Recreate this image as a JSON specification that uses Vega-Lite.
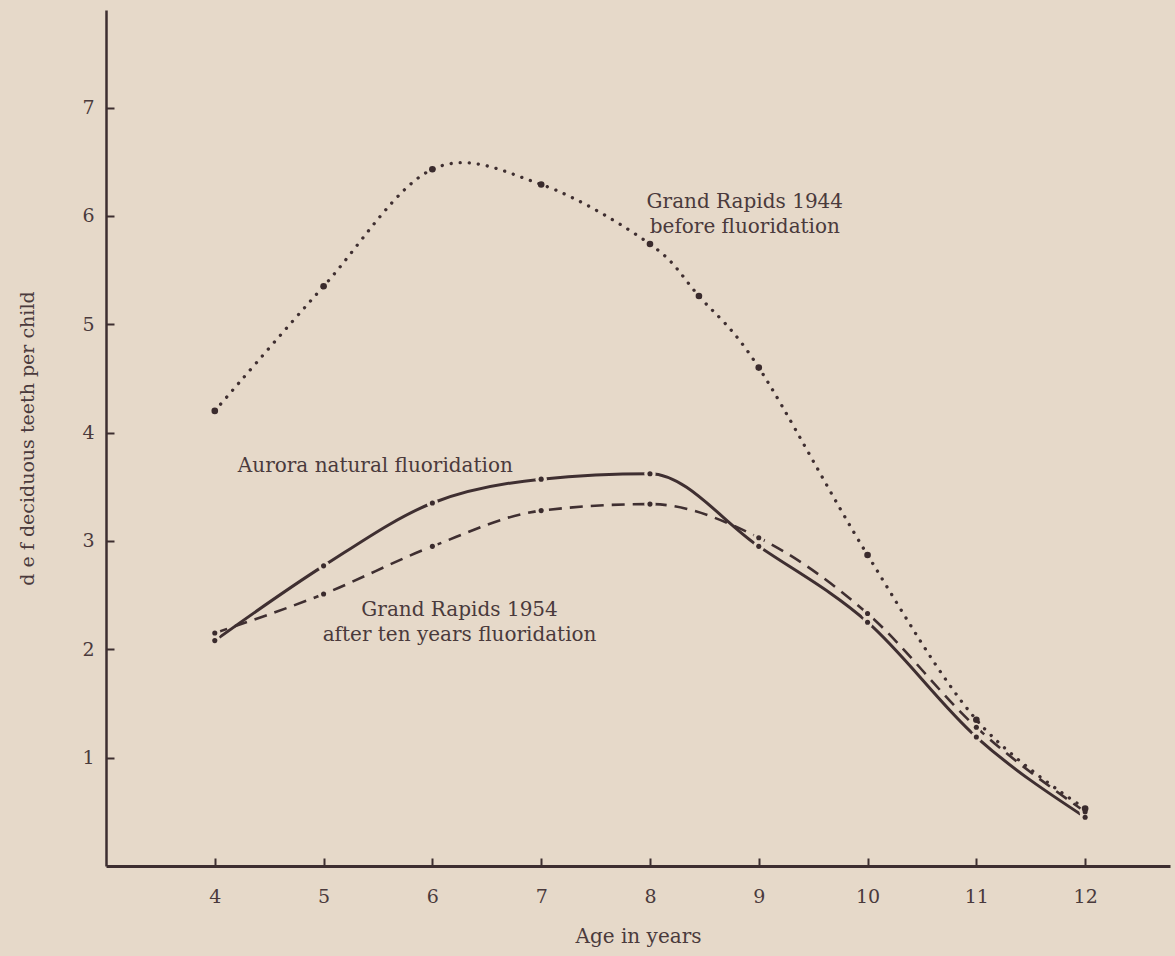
{
  "$schema": "https://vega.github.io/schema/vega-lite/v6.json",
  "width": 1064,
  "height": 856,
  "autosize": {"type": "none"},
  "padding": {"left": 106, "top": 10, "right": 5, "bottom": 90},
  "background": "#e6d9c9",
  "config": {"view": {"stroke": null}, "font": "DejaVu Serif"},
  "datasets": {
    "teeth": [
      {"series": "1944", "age": 4, "value": 4.2},
      {"series": "1944", "age": 5, "value": 5.35},
      {"series": "1944", "age": 6, "value": 6.43},
      {"series": "1944", "age": 7, "value": 6.29},
      {"series": "1944", "age": 8, "value": 5.74},
      {"series": "1944", "age": 8.45, "value": 5.26},
      {"series": "1944", "age": 9, "value": 4.6},
      {"series": "1944", "age": 10, "value": 2.87},
      {"series": "1944", "age": 11, "value": 1.35},
      {"series": "1944", "age": 12, "value": 0.53},
      {"series": "Aurora", "age": 4, "value": 2.08},
      {"series": "Aurora", "age": 5, "value": 2.77},
      {"series": "Aurora", "age": 6, "value": 3.35},
      {"series": "Aurora", "age": 7, "value": 3.57},
      {"series": "Aurora", "age": 8, "value": 3.62},
      {"series": "Aurora", "age": 9, "value": 2.95},
      {"series": "Aurora", "age": 10, "value": 2.25},
      {"series": "Aurora", "age": 11, "value": 1.19},
      {"series": "Aurora", "age": 12, "value": 0.45},
      {"series": "1954", "age": 4, "value": 2.15},
      {"series": "1954", "age": 5, "value": 2.51},
      {"series": "1954", "age": 6, "value": 2.95},
      {"series": "1954", "age": 7, "value": 3.28},
      {"series": "1954", "age": 8, "value": 3.34},
      {"series": "1954", "age": 9, "value": 3.03},
      {"series": "1954", "age": 10, "value": 2.33},
      {"series": "1954", "age": 11, "value": 1.28},
      {"series": "1954", "age": 12, "value": 0.5}
    ]
  },
  "layer": [
    {
      "data": {"name": "teeth"},
      "transform": [{"filter": "datum.series === 'Aurora'"}],
      "mark": {"type": "line", "interpolate": "monotone", "stroke": "#3f2f31", "strokeWidth": 3},
      "encoding": {
        "x": {
          "field": "age", "type": "quantitative",
          "scale": {"domain": [3, 12.78], "nice": false, "zero": false},
          "axis": {
            "title": "Age in years", "values": [4, 5, 6, 7, 8, 9, 10, 11, 12], "format": "d",
            "grid": false, "domainColor": "#3d2e30", "domainWidth": 3,
            "tickColor": "#3d2e30", "tickWidth": 2, "tickSize": -8,
            "labelPadding": 29, "labelFontSize": 19, "labelColor": "#4a3a3c", "labelFont": "DejaVu Serif",
            "titleFontSize": 20, "titleFontWeight": "normal", "titleColor": "#4a3a3c", "titleFont": "DejaVu Serif",
            "titlePadding": 20
          }
        },
        "y": {
          "field": "value", "type": "quantitative",
          "scale": {"domain": [0, 7.9], "nice": false},
          "axis": {
            "title": "d e f  deciduous teeth per child", "values": [1, 2, 3, 4, 5, 6, 7], "format": "d",
            "grid": false, "domainColor": "#3d2e30", "domainWidth": 2.5,
            "tickColor": "#3d2e30", "tickWidth": 2, "tickSize": -8,
            "labelPadding": 20, "labelFontSize": 19, "labelColor": "#4a3a3c", "labelFont": "DejaVu Serif",
            "titleFontSize": 19, "titleFontWeight": "normal", "titleColor": "#4a3a3c", "titleFont": "DejaVu Serif",
            "titlePadding": 44
          }
        }
      }
    },
    {
      "data": {"name": "teeth"},
      "transform": [{"filter": "datum.series === '1954'"}],
      "mark": {"type": "line", "interpolate": "monotone", "stroke": "#3f2f31", "strokeWidth": 2.6, "strokeDash": [13, 8]},
      "encoding": {
        "x": {"field": "age", "type": "quantitative"},
        "y": {"field": "value", "type": "quantitative"}
      }
    },
    {
      "data": {"name": "teeth"},
      "transform": [{"filter": "datum.series !== '1944'"}],
      "mark": {"type": "circle", "color": "#e6d9c9", "opacity": 1, "size": 130},
      "encoding": {
        "x": {"field": "age", "type": "quantitative"},
        "y": {"field": "value", "type": "quantitative"}
      }
    },
    {
      "data": {"name": "teeth"},
      "transform": [{"filter": "datum.series === '1944'"}],
      "mark": {"type": "line", "interpolate": "cardinal", "stroke": "#3f2f31", "strokeWidth": 3.3, "strokeDash": [0.1, 9], "strokeCap": "round"},
      "encoding": {
        "x": {"field": "age", "type": "quantitative"},
        "y": {"field": "value", "type": "quantitative"}
      }
    },
    {
      "data": {"name": "teeth"},
      "transform": [{"filter": "datum.series === '1944'"}],
      "mark": {"type": "circle", "color": "#3a2b2d", "opacity": 1, "size": 44},
      "encoding": {
        "x": {"field": "age", "type": "quantitative"},
        "y": {"field": "value", "type": "quantitative"}
      }
    },
    {
      "data": {"name": "teeth"},
      "transform": [{"filter": "datum.series !== '1944'"}],
      "mark": {"type": "circle", "color": "#3a2b2d", "opacity": 1, "size": 26},
      "encoding": {
        "x": {"field": "age", "type": "quantitative"},
        "y": {"field": "value", "type": "quantitative"}
      }
    },
    {
      "data": {"values": [{}]},
      "mark": {"type": "text", "align": "center", "baseline": "middle", "fontSize": 20, "lineHeight": 25, "color": "#4a3a3c", "font": "DejaVu Serif"},
      "encoding": {
        "x": {"datum": 8.872, "type": "quantitative"},
        "y": {"datum": 6.124, "type": "quantitative"},
        "text": {"value": ["Grand Rapids 1944", "before fluoridation"]}
      }
    },
    {
      "data": {"values": [{}]},
      "mark": {"type": "text", "align": "left", "baseline": "middle", "fontSize": 20, "color": "#4a3a3c", "font": "DejaVu Serif"},
      "encoding": {
        "x": {"datum": 4.212, "type": "quantitative"},
        "y": {"datum": 3.692, "type": "quantitative"},
        "text": {"value": "Aurora natural fluoridation"}
      }
    },
    {
      "data": {"values": [{}]},
      "mark": {"type": "text", "align": "center", "baseline": "middle", "fontSize": 20, "lineHeight": 25, "color": "#4a3a3c", "font": "DejaVu Serif"},
      "encoding": {
        "x": {"datum": 6.25, "type": "quantitative"},
        "y": {"datum": 2.363, "type": "quantitative"},
        "text": {"value": ["Grand Rapids 1954", "after ten years fluoridation"]}
      }
    }
  ]
}
